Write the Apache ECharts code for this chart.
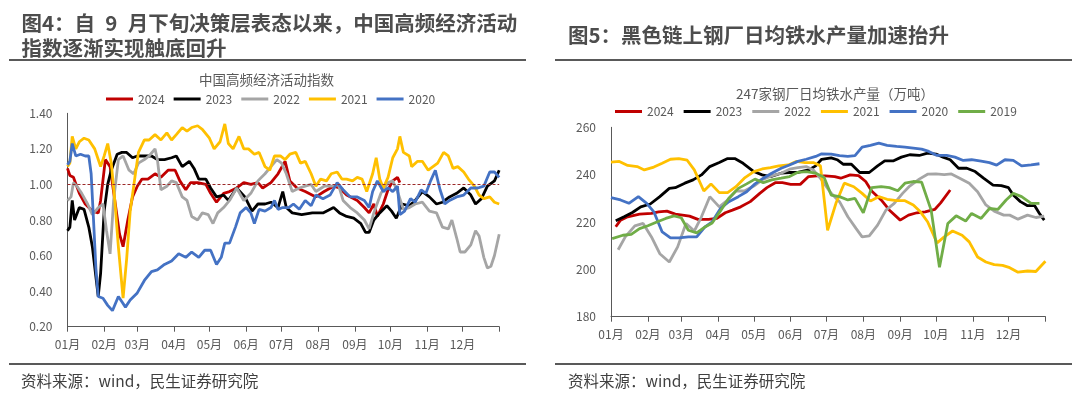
<!DOCTYPE html>
<html>
<head>
<meta charset="utf-8">
<script src="https://cdn.jsdelivr.net/npm/echarts@6/dist/echarts.min.js"></script>
<style>
  html, body { margin: 0; padding: 0; background: #fff; }
  #main { width: 1080px; height: 397px; }
</style>
</head>
<body>
<div id="main"></div>
<script>
// 月份刻度（按年内第几天）
var monthStarts = [0, 31, 59, 90, 120, 151, 181, 212, 243, 273, 304, 334, 365];
var monthLabels = ["01月", "02月", "03月", "04月", "05月", "06月", "07月", "08月", "09月", "10月", "11月", "12月"];

// 图4：中国高频经济活动指数 [天, 值]
var hf2024 = [[0,1.09],[2,1.05],[5,1.04],[10,0.95],[15,0.89],[21,0.85],[26,0.84],[28,0.91],[32,1.14],[36,1.10],[40,0.91],[44,0.72],[47,0.65],[51,0.80],[55,0.93],[59,0.99],[63,1.03],[68,1.03],[74,1.06],[79,1.04],[85,1.08],[91,1.08],[95,1.02],[100,0.97],[104,1.01],[110,1.01],[117,1.00],[121,0.95],[126,0.90],[132,0.95],[137,0.96],[143,0.98],[149,1.01],[155,1.00],[161,1.01],[165,0.98],[172,1.01],[178,1.06],[184,1.13],[188,1.02],[194,0.98],[201,0.96],[210,0.93],[217,0.96],[225,0.99],[230,0.98],[236,0.94],[245,0.91],[251,0.87],[255,0.84],[259,0.89],[262,0.82],[267,0.89],[271,0.97],[275,1.02],[279,1.04],[281,1.01]];
var hf2023 = [[0,0.74],[2,0.76],[4,0.91],[6,0.80],[10,0.87],[14,0.86],[18,0.76],[21,0.65],[24,0.48],[26,0.37],[28,0.50],[31,0.85],[34,1.00],[37,1.08],[42,1.17],[46,1.18],[50,1.18],[55,1.15],[59,1.16],[63,1.16],[71,1.16],[76,1.14],[82,1.14],[88,1.15],[92,1.16],[97,1.10],[103,1.13],[107,1.09],[111,1.03],[117,1.03],[121,0.98],[126,0.93],[132,0.94],[136,0.91],[143,0.98],[150,0.93],[156,0.85],[161,0.89],[167,0.89],[172,0.90],[178,0.87],[182,0.96],[185,0.87],[190,0.84],[198,0.83],[207,0.84],[216,0.84],[225,0.87],[230,0.84],[236,0.82],[242,0.81],[248,0.78],[252,0.73],[255,0.73],[259,0.80],[264,0.84],[270,0.88],[274,0.85],[278,0.81],[283,0.89],[289,0.88],[294,0.91],[300,0.96],[306,0.93],[312,0.89],[317,0.90],[323,0.93],[329,0.95],[335,0.98],[341,0.94],[345,0.89],[350,0.92],[355,0.99],[361,1.02],[365,1.08]];
var hf2022 = [[0,0.91],[3,0.93],[5,1.01],[8,0.99],[12,0.95],[17,0.89],[21,0.83],[26,0.87],[30,0.89],[33,0.74],[36,0.61],[39,0.91],[43,1.14],[47,1.16],[52,1.08],[56,1.06],[60,1.12],[65,1.14],[69,1.16],[74,1.20],[76,1.14],[79,0.97],[84,0.99],[88,1.02],[92,1.01],[97,0.93],[101,0.91],[105,0.82],[110,0.80],[114,0.84],[119,0.83],[123,0.78],[127,0.84],[132,0.87],[137,0.91],[143,0.98],[149,0.91],[155,0.95],[161,1.02],[167,1.06],[172,1.10],[177,1.14],[181,1.12],[185,1.06],[190,0.96],[196,0.98],[201,0.99],[206,1.00],[210,0.96],[217,0.99],[225,0.99],[229,1.00],[233,0.91],[239,0.87],[245,0.84],[251,0.80],[255,0.75],[259,0.84],[265,0.95],[271,1.01],[275,1.02],[279,0.96],[284,0.86],[289,0.87],[294,0.89],[300,0.90],[306,0.85],[312,0.84],[317,0.76],[322,0.75],[325,0.80],[329,0.70],[332,0.62],[336,0.62],[341,0.66],[345,0.74],[348,0.71],[352,0.59],[355,0.53],[358,0.54],[361,0.60],[365,0.72]];
var hf2021 = [[0,1.10],[2,1.12],[4,1.27],[7,1.20],[10,1.24],[14,1.26],[18,1.25],[23,1.20],[26,1.14],[28,1.10],[31,1.16],[34,1.23],[37,1.12],[40,0.91],[43,0.65],[47,0.36],[50,0.58],[53,0.85],[57,1.04],[60,1.18],[65,1.25],[69,1.25],[74,1.28],[79,1.25],[84,1.29],[88,1.25],[92,1.28],[97,1.32],[101,1.30],[105,1.32],[110,1.33],[114,1.31],[120,1.26],[124,1.20],[129,1.24],[133,1.34],[136,1.23],[140,1.20],[145,1.27],[149,1.20],[153,1.20],[158,1.17],[162,1.18],[167,1.10],[171,1.08],[175,1.16],[180,1.16],[184,1.14],[188,1.17],[193,1.18],[197,1.12],[201,1.13],[206,1.06],[210,0.99],[214,1.03],[219,1.02],[223,1.06],[228,1.07],[232,1.03],[236,1.03],[241,1.02],[245,1.04],[249,1.03],[253,0.96],[258,1.06],[261,1.15],[264,1.03],[267,0.98],[271,1.04],[275,1.15],[279,1.20],[281,1.27],[284,1.18],[289,1.16],[291,1.10],[296,1.13],[300,1.13],[305,1.08],[309,1.10],[313,1.12],[318,1.18],[322,1.16],[326,1.09],[330,1.10],[335,1.07],[339,1.03],[344,0.99],[348,0.94],[352,0.92],[357,0.93],[361,0.90],[365,0.89]];
var hf2020 = [[0,1.11],[2,1.13],[4,1.23],[7,1.16],[11,1.17],[15,1.16],[18,1.16],[20,1.06],[22,0.80],[24,0.53],[26,0.37],[30,0.36],[34,0.32],[38,0.29],[43,0.37],[46,0.34],[49,0.31],[53,0.35],[59,0.39],[65,0.46],[71,0.51],[76,0.52],[82,0.55],[88,0.57],[94,0.61],[100,0.59],[105,0.62],[111,0.59],[116,0.63],[121,0.63],[126,0.55],[130,0.59],[133,0.67],[137,0.67],[142,0.76],[146,0.84],[151,0.87],[155,0.84],[158,0.78],[162,0.86],[167,0.85],[172,0.87],[175,0.91],[178,0.86],[182,0.87],[187,0.87],[191,0.89],[196,0.86],[201,0.91],[206,0.88],[210,0.94],[216,0.92],[222,0.94],[228,1.01],[233,0.97],[239,0.93],[245,0.93],[251,0.91],[255,0.87],[258,0.96],[262,1.02],[267,0.96],[271,0.98],[275,0.96],[279,0.99],[281,0.83],[285,0.85],[290,0.92],[294,0.90],[299,0.97],[303,0.95],[307,1.02],[311,1.08],[315,0.97],[319,0.89],[323,0.91],[329,0.93],[335,0.94],[341,0.98],[347,0.98],[352,0.99],[357,1.07],[361,1.07],[365,1.04]];

// 图5：247家钢厂日均铁水产量（万吨） [天, 值]
var iron2024 = [[4,218.0],[8,220.8],[14,222.2],[24,223.3],[34,223.6],[40,224.3],[47,224.6],[54,223.3],[66,222.5],[73,221.1],[82,221.1],[89,221.5],[96,223.9],[102,225.0],[109,226.4],[117,228.6],[125,232.1],[131,234.5],[138,236.6],[144,236.6],[151,235.9],[159,235.9],[166,239.2],[173,239.5],[180,239.5],[188,239.2],[193,238.5],[201,239.9],[208,239.6],[214,237.1],[219,233.1],[227,229.3],[234,225.0],[243,220.8],[250,222.9],[257,223.9],[264,224.3],[272,225.3],[277,228.1],[285,233.5]];
var iron2023 = [[4,220.5],[11,222.2],[18,224.0],[25,226.4],[33,227.6],[41,230.7],[49,234.2],[54,234.5],[62,236.4],[69,237.8],[76,239.9],[83,243.4],[91,245.1],[98,246.8],[104,246.8],[111,244.8],[120,241.3],[127,239.9],[134,239.2],[143,240.6],[150,240.9],[157,241.0],[166,242.0],[172,243.7],[177,246.5],[185,247.1],[190,246.3],[195,244.4],[202,244.4],[209,240.9],[217,240.9],[224,243.7],[230,245.8],[237,245.8],[244,247.4],[251,248.4],[259,248.1],[266,249.1],[273,248.7],[279,247.4],[285,246.3],[292,242.7],[299,242.7],[306,241.3],[313,238.5],[321,235.6],[328,235.4],[334,234.5],[338,231.4],[344,228.6],[350,226.9],[356,226.9],[360,223.6],[364,220.8]];
var iron2022 = [[6,208.3],[12,213.7],[20,218.4],[27,219.4],[34,213.7],[41,206.6],[49,203.1],[56,209.5],[63,219.4],[70,216.2],[76,222.2],[83,230.7],[91,226.4],[98,229.3],[105,233.1],[112,233.1],[120,235.2],[128,238.1],[135,239.5],[143,240.6],[150,242.3],[157,243.0],[164,243.4],[170,242.0],[177,237.8],[185,232.1],[192,228.6],[199,222.2],[206,217.2],[211,213.7],[217,214.1],[224,218.7],[231,225.0],[238,227.9],[245,232.1],[251,235.2],[259,238.1],[266,240.2],[273,240.3],[280,240.0],[286,240.3],[293,238.5],[301,236.4],[308,232.8],[315,227.2],[322,224.6],[330,222.9],[335,222.9],[342,221.2],[350,222.9],[357,221.9],[364,222.5]];
var iron2021 = [[0,245.3],[7,245.6],[14,243.9],[22,243.4],[28,242.0],[36,243.2],[43,244.8],[50,246.5],[57,246.8],[64,246.1],[70,242.0],[78,233.1],[84,236.1],[91,232.4],[98,232.4],[105,234.9],[112,238.5],[120,241.3],[127,242.4],[134,243.0],[141,243.7],[149,244.1],[156,245.6],[163,245.1],[170,245.1],[176,243.7],[182,216.5],[189,227.9],[196,236.4],[204,234.9],[211,232.1],[218,228.9],[225,230.7],[232,229.6],[240,229.0],[247,229.0],[254,227.2],[260,224.3],[266,220.1],[274,211.2],[280,213.7],[287,216.2],[295,214.4],[301,211.6],[308,205.2],[315,203.1],[322,202.0],[329,201.7],[335,200.7],[342,198.8],[350,199.3],[357,199.1],[365,203.4]];
var iron2020 = [[0,230.3],[8,229.3],[15,227.9],[23,230.7],[30,227.9],[36,224.3],[43,215.8],[50,213.3],[57,213.3],[65,213.7],[72,213.7],[79,217.9],[85,220.1],[92,225.7],[99,228.6],[107,230.7],[114,232.8],[121,236.1],[128,238.5],[135,240.6],[143,242.7],[150,244.1],[157,245.6],[164,246.5],[172,247.7],[177,248.8],[185,248.7],[192,248.0],[199,247.7],[205,248.0],[211,251.6],[218,252.4],[225,253.3],[232,252.4],[240,251.9],[247,251.6],[254,251.2],[261,250.8],[267,249.8],[274,248.1],[282,248.1],[289,247.4],[296,246.0],[303,246.3],[311,245.7],[318,245.1],[324,244.0],[331,246.3],[338,246.0],[345,243.7],[353,244.1],[360,244.6]];
var iron2019 = [[1,213.0],[10,214.4],[17,214.8],[24,217.2],[31,218.4],[39,220.1],[46,221.5],[53,222.6],[59,221.8],[65,216.5],[72,215.4],[79,217.9],[85,219.6],[92,224.7],[99,230.0],[107,234.2],[114,236.1],[121,238.1],[128,236.6],[135,237.8],[143,238.5],[150,239.2],[157,241.0],[164,241.3],[172,240.6],[179,238.9],[185,231.4],[192,230.7],[199,229.3],[205,230.0],[212,223.9],[219,234.5],[227,234.9],[234,234.5],[241,233.2],[247,236.4],[254,237.1],[261,236.8],[269,225.0],[276,200.9],[283,219.4],[290,222.6],[298,220.4],[303,223.6],[311,221.5],[318,225.7],[325,225.3],[332,229.3],[338,232.1],[345,230.7],[353,227.9],[360,227.9]];

var colors = {
  "2024": "#C00000",
  "2023": "#000000",
  "2022": "#A5A5A5",
  "2021": "#FFC000",
  "2020": "#4472C4",
  "2019": "#70AD47"
};

var FONT = '"Noto Sans CJK SC", "Noto Sans", sans-serif';
var dayCats = [];
for (var d = 0; d <= 365; d++) dayCats.push(String(d));

function isMonthStart(index) {
  return monthStarts.indexOf(index) >= 0;
}

function makeXAxis(gridIndex) {
  return {
    type: "category",
    gridIndex: gridIndex,
    data: dayCats,
    boundaryGap: false,
    axisLine: { lineStyle: { color: "#595959", width: 1 } },
    axisTick: {
      interval: function (index) { return isMonthStart(index); },
      length: 5,
      lineStyle: { color: "#595959" }
    },
    axisLabel: {
      interval: function (index) { return isMonthStart(index) && index < 365; },
      formatter: function (value, index) {
        var i = monthStarts.indexOf(Number(value));
        return i >= 0 && i < monthLabels.length ? monthLabels[i] : "";
      },
      color: "#595959",
      fontSize: 12,
      fontFamily: FONT,
      margin: 12
    },
    splitLine: { show: false }
  };
}

function makeSeries(name, data, axisIndex) {
  return {
    name: name,
    type: "line",
    xAxisIndex: axisIndex,
    yAxisIndex: axisIndex,
    data: data,
    showSymbol: false,
    symbol: "none",
    color: colors[name],
    lineStyle: { width: 2.8, color: colors[name] }
  };
}

var chart = echarts.init(document.getElementById("main"));

var leftSeries = [
  makeSeries("2024", hf2024, 0),
  makeSeries("2023", hf2023, 0),
  makeSeries("2022", hf2022, 0),
  makeSeries("2021", hf2021, 0),
  makeSeries("2020", hf2020, 0)
];
// 1.00 参考线
leftSeries[0].markLine = {
  silent: true,
  symbol: ["none", "none"],
  label: { show: false },
  lineStyle: { color: "#9C2A2A", type: [3, 2], width: 1 },
  data: [{ yAxis: 1 }]
};

var rightSeries = [
  makeSeries("2024", iron2024, 1),
  makeSeries("2023", iron2023, 1),
  makeSeries("2022", iron2022, 1),
  makeSeries("2021", iron2021, 1),
  makeSeries("2020", iron2020, 1),
  makeSeries("2019", iron2019, 1)
];

var option = {
  animation: false,
  backgroundColor: "#ffffff",
  textStyle: { fontFamily: FONT },
  graphic: [
    { type: "text", style: { text: "图4：自\u20029\u2002月下旬决策层表态以来，中国高频经济活动", x: 21.5, y: 23.5, fill: "#4D4D4D", font: "bold 20.5px " + FONT, verticalAlign: "middle" } },
    { type: "text", style: { text: "指数逐渐实现触底回升", x: 21.5, y: 48.5, fill: "#4D4D4D", font: "bold 20.5px " + FONT, verticalAlign: "middle" } },
    { type: "text", style: { text: "图5：黑色链上钢厂日均铁水产量加速抬升", x: 568, y: 35, fill: "#4D4D4D", font: "bold 20.5px " + FONT, verticalAlign: "middle" } },
    { type: "line", shape: { x1: 9, y1: 60, x2: 526, y2: 60 }, style: { stroke: "#595959", lineWidth: 2 } },
    { type: "line", shape: { x1: 555, y1: 60, x2: 1072, y2: 60 }, style: { stroke: "#595959", lineWidth: 2 } },
    { type: "line", shape: { x1: 9, y1: 364, x2: 526, y2: 364 }, style: { stroke: "#595959", lineWidth: 2 } },
    { type: "line", shape: { x1: 555, y1: 364, x2: 1072, y2: 364 }, style: { stroke: "#595959", lineWidth: 2 } },
    { type: "text", style: { text: "中国高频经济活动指数", x: 199, y: 79.5, fill: "#595959", font: "13.5px " + FONT, verticalAlign: "middle" } },
    { type: "text", style: { text: "247家钢厂日均铁水产量（万吨）", x: 736, y: 94, fill: "#595959", font: "13.5px " + FONT, verticalAlign: "middle" } },
    { type: "text", style: { text: "资料来源：wind，民生证券研究院", x: 21, y: 381, fill: "#404040", font: "15.5px " + FONT, verticalAlign: "middle" } },
    { type: "text", style: { text: "资料来源：wind，民生证券研究院", x: 568, y: 381, fill: "#404040", font: "15.5px " + FONT, verticalAlign: "middle" } }
  ],
  legend: [
    {
      data: ["2024", "2023", "2022", "2021", "2020"],
      left: 106,
      top: 93,
      padding: 0,
      icon: "rect",
      itemWidth: 27,
      itemHeight: 3,
      itemGap: 9,
      textStyle: { color: "#595959", fontSize: 12, fontFamily: FONT }
    },
    {
      data: ["2024", "2023", "2022", "2021", "2020", "2019"],
      left: 615,
      top: 105.5,
      padding: 0,
      icon: "rect",
      itemWidth: 27,
      itemHeight: 3,
      itemGap: 10,
      textStyle: { color: "#595959", fontSize: 12, fontFamily: FONT }
    }
  ],
  grid: [
    { left: 67.5, right: 580.8, top: 113.3, bottom: 70.3 },
    { left: 611, right: 34.6, top: 127.3, bottom: 80.3 }
  ],
  xAxis: [makeXAxis(0), makeXAxis(1)],
  yAxis: [
    {
      type: "value",
      gridIndex: 0,
      min: 0.2,
      max: 1.4,
      interval: 0.2,
      axisLine: { show: true, lineStyle: { color: "#595959", width: 1 } },
      axisTick: { show: false },
      splitLine: { show: false },
      axisLabel: {
        color: "#595959",
        fontSize: 12,
        fontFamily: FONT,
        margin: 15,
        formatter: function (v) { return v.toFixed(2); }
      }
    },
    {
      type: "value",
      gridIndex: 1,
      min: 180,
      max: 260,
      interval: 20,
      axisLine: { show: true, lineStyle: { color: "#595959", width: 1 } },
      axisTick: { show: false },
      splitLine: { show: false },
      axisLabel: { color: "#595959", fontSize: 12, fontFamily: FONT, margin: 15 }
    }
  ],
  series: leftSeries.concat(rightSeries)
};

chart.setOption(option);
</script>
</body>
</html>
